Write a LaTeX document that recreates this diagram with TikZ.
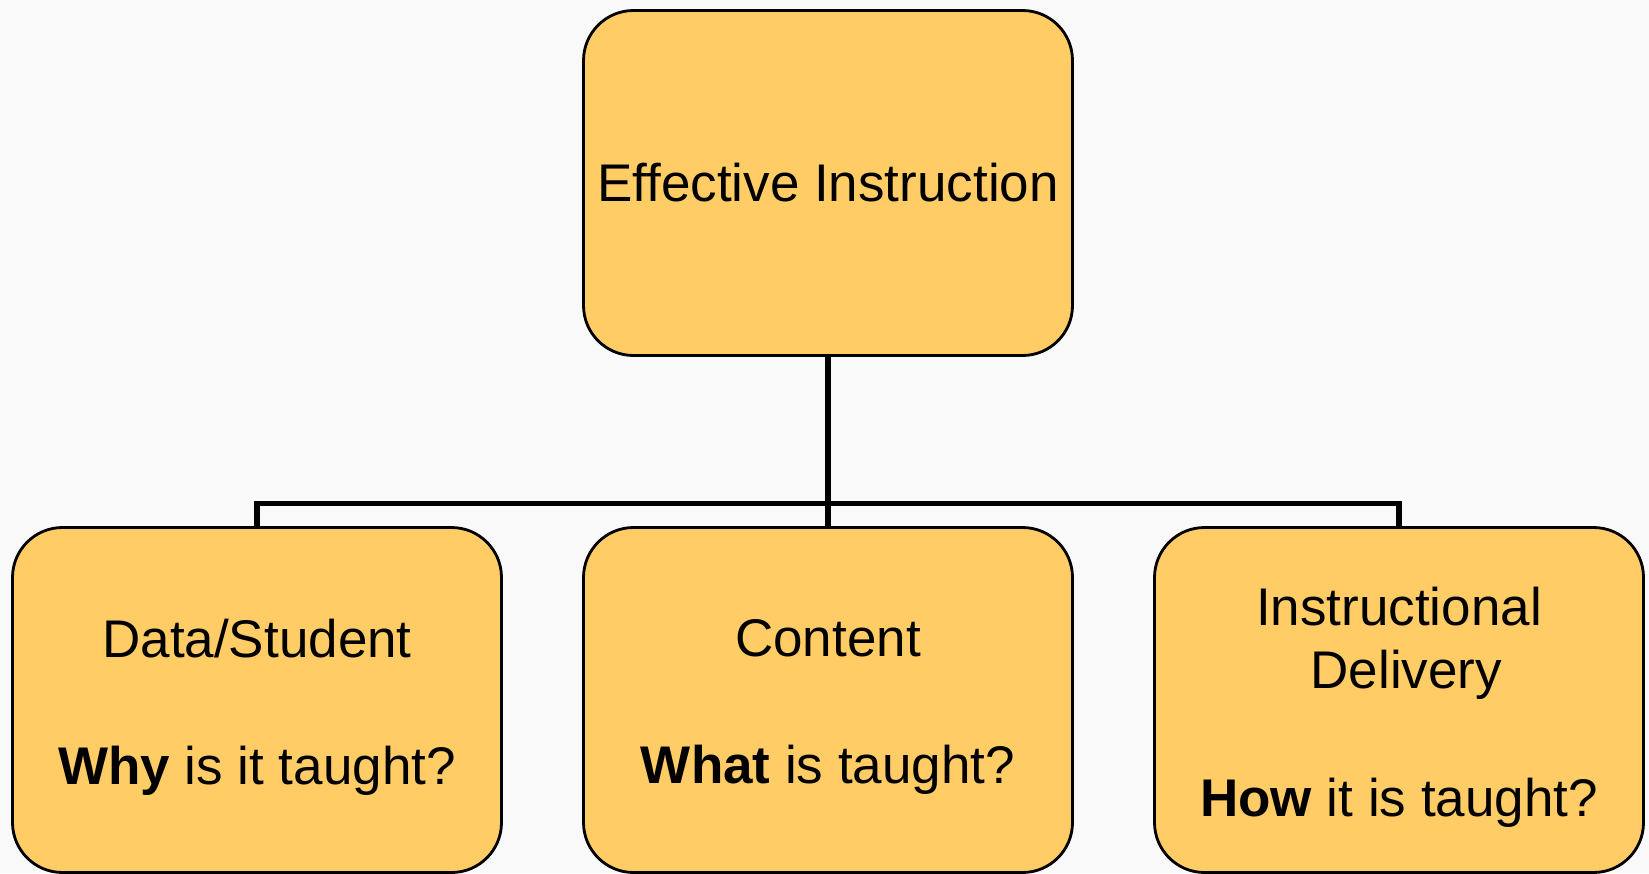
\documentclass[tikz,border=0pt]{standalone}
\usepackage{fontspec}
\setmainfont{Liberation Sans}
\usetikzlibrary{backgrounds}
\definecolor{boxfill}{RGB}{255,204,102}
\definecolor{pagebg}{RGB}{249,249,249}
\tikzset{
  box/.style={draw=black, line width=2.8pt, fill=boxfill, rounded corners=50pt,
    minimum width=489pt, minimum height=345pt, inner sep=0pt},
  lbl/.style={align=center, inner sep=0pt, yshift=-7pt,
    font=\fontsize{53}{63.6}\selectfont},
  conn/.style={draw=black, line width=5.5pt}
}
\begin{document}
\begin{tikzpicture}[x=1pt, y=-1pt]
  \useasboundingbox (0,0) rectangle (1649,873);

  % boxes
  \node[box] (top) at (828,183) {};
  \node[box] (ds)  at (257,700) {};
  \node[box] (ct)  at (828,700) {};
  \node[box] (id)  at (1399,700) {};

  % captions
  \node[lbl, yshift=7pt] (topT) at (top.center) {Effective Instruction};
  \node[lbl] (dsT)  at (ds.center) {Data/Student\\[63.6pt]\textbf{Why} is it taught?};
  \node[lbl] (ctT)  at (ct.center) {Content\\[63.6pt]\textbf{What} is taught?};
  \node[lbl] (idT)  at (id.center) {Instructional\\\hspace*{14.7pt}Delivery\\[63.6pt]\textbf{How} it is taught?};

  % page and connectors behind the boxes
  \begin{scope}[on background layer]
    \fill[pagebg] (0,0) rectangle (1649,873);
    \draw[conn] (top.south) -- (ct.north);
    \draw[conn] (ds.north) -- ++(0,-22.5) -| (id.north);
  \end{scope}
\end{tikzpicture}
\end{document}
